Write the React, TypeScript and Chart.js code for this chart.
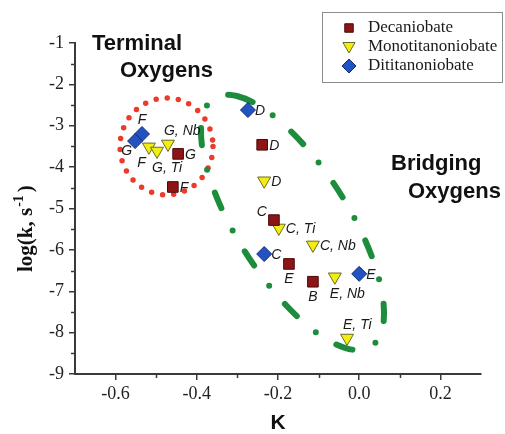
import React, { useEffect, useRef } from 'react';
import { Chart, registerables } from 'chart.js';

Chart.register(...registerables);

// ---- axis ticks ----
const xTicks = [-0.6, -0.4, -0.2, 0.0, 0.2];
const xMinorTicks = [-0.5, -0.3, -0.1, 0.1];
const yTicks = [-1, -2, -3, -4, -5, -6, -7, -8, -9];
const yMinorTicks = [-1.5, -2.5, -3.5, -4.5, -5.5, -6.5, -7.5, -8.5];

// ---- series ----
const seriesNames = ['Decaniobate', 'Monotitanoniobate', 'Dititanoniobate'];

const decaX = [-0.446, -0.459, -0.239, -0.21, -0.173, -0.114];
const decaY = [-3.68, -4.48, -3.46, -5.28, -6.34, -6.77];
const decaLabels = ['G', 'F', 'D', 'C', 'E', 'B'];
const decaPlace = ['r', 'r', 'r', 'al', 'b', 'b'];

const monoX = [-0.518, -0.498, -0.471, -0.234, -0.198, -0.114, -0.06, -0.03];
const monoY = [-3.51, -3.61, -3.44, -4.33, -5.47, -5.88, -6.65, -8.13];
const monoLabels = ['F', 'G, Ti', 'G, Nb', 'D', 'C, Ti', 'C, Nb', 'E, Nb', 'E, Ti'];
const monoPlace = ['bl', 'br', 'ar', 'r', 'r', 'r', 'br', 'ar'];

const diX = [-0.535, -0.552, -0.274, -0.234, 0.0];
const diY = [-3.2, -3.37, -2.62, -6.1, -6.58];
const diLabels = ['F', 'G', 'D', 'C', 'E'];
const diPlace = ['a', 'lb', 'r', 'r', 'r'];

// ---- region outlines (data units) ----
const terminalRing = { cx: -0.4746, cy: -3.5, rx: 0.1145, ry: 1.17 };
const bridgingRing = { x1: -0.3576, y1: -2.336, x2: 0.029, y2: -8.336, minorRatio: 0.38 };

const allLabels = [decaLabels, monoLabels, diLabels];
const allPlaces = [decaPlace, monoPlace, diPlace];

const placeOffsets: Record<string, [number, number, CanvasTextAlign]> = {
  r: [7, 1, 'left'],
  al: [-7, -8, 'right'],
  b: [0, 15, 'center'],
  bl: [-3, 16, 'right'],
  br: [-5, 17, 'left'],
  ar: [-4, -13, 'left'],
  a: [0, -14, 'center'],
  lb: [-3, 10, 'right'],
};

const AXIS_COLOR = '#3a3a3a';

function drawMarker(ctx: CanvasRenderingContext2D, style: string, x: number, y: number, r: number) {
  ctx.beginPath();
  if (style === 'rect') {
    const s = Math.SQRT1_2 * r;
    ctx.rect(x - s, y - s, 2 * s, 2 * s);
  } else if (style === 'triangle') {
    // pointing down
    for (let k = 0; k < 3; k++) {
      const a = Math.PI + (k * 2 * Math.PI) / 3;
      const px = x + Math.sin(a) * r;
      const py = y - Math.cos(a) * r;
      if (k === 0) ctx.moveTo(px, py);
      else ctx.lineTo(px, py);
    }
    ctx.closePath();
  } else {
    ctx.moveTo(x, y - r);
    ctx.lineTo(x + r, y);
    ctx.lineTo(x, y + r);
    ctx.lineTo(x - r, y);
    ctx.closePath();
  }
  ctx.fill();
  ctx.stroke();
}

const decorPlugin = {
  id: 'decor',
  beforeDatasetsDraw(chart: any) {
    const ctx: CanvasRenderingContext2D = chart.ctx;
    const xs = chart.scales.x;
    const ys = chart.scales.y;
    ctx.save();
    // terminal ring (red dots)
    const cx = xs.getPixelForValue(terminalRing.cx);
    const cy = ys.getPixelForValue(terminalRing.cy);
    const rx = Math.abs(xs.getPixelForValue(terminalRing.cx + terminalRing.rx) - cx);
    const ry = Math.abs(ys.getPixelForValue(terminalRing.cy + terminalRing.ry) - cy);
    ctx.strokeStyle = '#ec3a2b';
    ctx.lineWidth = 5.5;
    ctx.lineCap = 'round';
    ctx.setLineDash([0, 11.2]);
    ctx.beginPath();
    ctx.ellipse(cx, cy, rx, ry, 0, 0, Math.PI * 2);
    ctx.stroke();

    // bridging ring (green dash-dot)
    const ax = xs.getPixelForValue(bridgingRing.x1);
    const ay = ys.getPixelForValue(bridgingRing.y1);
    const bx = xs.getPixelForValue(bridgingRing.x2);
    const by = ys.getPixelForValue(bridgingRing.y2);
    const mx = (ax + bx) / 2;
    const my = (ay + by) / 2;
    const semi = Math.hypot(bx - ax, by - ay) / 2;
    const ang = Math.atan2(by - ay, bx - ax);
    ctx.strokeStyle = '#1d8c3c';
    ctx.lineWidth = 6;
    ctx.setLineDash([17, 24, 0, 25]);
    ctx.beginPath();
    ctx.ellipse(mx, my, semi, semi * bridgingRing.minorRatio, ang, Math.PI * 1.12, Math.PI * 3.12);
    ctx.stroke();
    ctx.restore();
  },
  afterDatasetsDraw(chart: any) {
    const ctx: CanvasRenderingContext2D = chart.ctx;
    ctx.save();
    ctx.font = 'italic 14px "Liberation Sans", Arial, sans-serif';
    ctx.fillStyle = '#1a1a1a';
    ctx.textBaseline = 'middle';
    chart.data.datasets.forEach((ds: any, di: number) => {
      const meta = chart.getDatasetMeta(di);
      meta.data.forEach((pt: any, i: number) => {
        const [dx, dy, align] = placeOffsets[allPlaces[di][i]];
        ctx.textAlign = align;
        ctx.fillText(allLabels[di][i], pt.x + dx, pt.y + dy);
      });
    });
    ctx.restore();
  },
  afterDraw(chart: any) {
    const ctx: CanvasRenderingContext2D = chart.ctx;
    const xs = chart.scales.x;
    const ys = chart.scales.y;
    const area = chart.chartArea;
    ctx.save();
    // minor ticks
    ctx.strokeStyle = AXIS_COLOR;
    ctx.lineWidth = 1.5;
    ctx.beginPath();
    xMinorTicks.forEach((v) => {
      const px = Math.round(xs.getPixelForValue(v)) + 0.5;
      ctx.moveTo(px, area.bottom);
      ctx.lineTo(px, area.bottom + 4);
    });
    yMinorTicks.forEach((v) => {
      const py = Math.round(ys.getPixelForValue(v)) + 0.5;
      ctx.moveTo(area.left - 4, py);
      ctx.lineTo(area.left, py);
    });
    ctx.stroke();

    // region titles
    ctx.fillStyle = '#111';
    ctx.font = 'bold 22px "Liberation Sans", Arial, sans-serif';
    ctx.textAlign = 'left';
    ctx.textBaseline = 'alphabetic';
    ctx.fillText('Terminal', 92, 50);
    ctx.fillText('Oxygens', 120, 77);
    ctx.fillText('Bridging', 391, 170);
    ctx.fillText('Oxygens', 408, 198);

    // x title
    ctx.font = 'bold 21px "Liberation Sans", Arial, sans-serif';
    ctx.textAlign = 'center';
    ctx.textBaseline = 'middle';
    ctx.fillText('K', (area.left + area.right) / 2, 423);

    // y title
    ctx.save();
    ctx.translate(32, 272);
    ctx.rotate(-Math.PI / 2);
    ctx.textAlign = 'left';
    ctx.textBaseline = 'alphabetic';
    ctx.font = 'bold 21px "Liberation Serif", "Times New Roman", serif';
    const main = 'log(k, s';
    ctx.fillText(main, 0, 0);
    let w = ctx.measureText(main).width;
    ctx.font = 'bold 14px "Liberation Serif", "Times New Roman", serif';
    ctx.fillText('-1', w + 1, -9);
    w += ctx.measureText('-1').width + 4;
    ctx.font = 'bold 21px "Liberation Serif", "Times New Roman", serif';
    ctx.fillText(')', w, 0);
    ctx.restore();

    // legend
    const lx = 322.5;
    const ly = 12.5;
    ctx.strokeStyle = '#8c8c8c';
    ctx.lineWidth = 1;
    ctx.fillStyle = '#ffffff';
    ctx.fillRect(lx, ly, 180, 70);
    ctx.strokeRect(lx, ly, 180, 70);
    const rowY = [28, 47, 66];
    const styles = ['rect', 'triangle', 'rectRot'];
    const sizes = [6, 7, 7];
    chart.data.datasets.forEach((ds: any, i: number) => {
      ctx.fillStyle = ds.backgroundColor;
      ctx.strokeStyle = ds.borderColor;
      ctx.lineWidth = 1;
      drawMarker(ctx, styles[i], 349, rowY[i] + (i === 1 ? -1 : 0), sizes[i]);
      ctx.fillStyle = '#1a1a1a';
      ctx.font = '17px "Liberation Serif", "Times New Roman", serif';
      ctx.textAlign = 'left';
      ctx.textBaseline = 'middle';
      ctx.fillText(ds.label, 368, rowY[i]);
    });
    ctx.restore();
  },
};

function toPoints(xs: number[], ys: number[]) {
  return xs.map((x, i) => ({ x, y: ys[i] }));
}

export default function App() {
  const ref = useRef<HTMLCanvasElement | null>(null);

  useEffect(() => {
    document.body.style.margin = '0';
    const canvas = ref.current;
    if (!canvas) return;
    const chart = new Chart(canvas, {
      type: 'scatter',
      data: {
        datasets: [
          {
            label: seriesNames[0],
            data: toPoints(decaX, decaY),
            pointStyle: 'rect',
            pointRadius: 7.5,
            backgroundColor: '#8e1515',
            borderColor: '#4a0a0a',
            borderWidth: 1,
          },
          {
            label: seriesNames[1],
            data: toPoints(monoX, monoY),
            pointStyle: 'triangle',
            pointRotation: 180,
            pointRadius: 7.5,
            backgroundColor: '#f2ee12',
            borderColor: '#6a6a28',
            borderWidth: 1,
          },
          {
            label: seriesNames[2],
            data: toPoints(diX, diY),
            pointStyle: 'rectRot',
            pointRadius: 7.5,
            backgroundColor: '#2352c2',
            borderColor: '#122c72',
            borderWidth: 1,
          },
        ],
      },
      options: {
        responsive: false,
        animation: false,
        events: [],
        layout: { padding: { top: 43, right: 24, left: 0, bottom: 0 } },
        plugins: {
          legend: { display: false },
          tooltip: { enabled: false },
        },
        scales: {
          x: {
            type: 'linear',
            min: -0.7,
            max: 0.3,
            afterBuildTicks: (s: any) => {
              s.ticks = xTicks.map((v) => ({ value: v }));
            },
            afterFit: (s: any) => {
              s.height = 60;
            },
            grid: { drawOnChartArea: false, drawTicks: true, tickLength: 6, color: AXIS_COLOR, lineWidth: 1.5 },
            border: { display: true, color: AXIS_COLOR, width: 2 },
            ticks: {
              font: { family: '"Liberation Serif", "Times New Roman", serif', size: 18 },
              color: '#222',
              padding: 3,
              maxRotation: 0,
              callback: (v: any) => Number(v).toFixed(1).replace('-0.0', '0.0'),
            },
          },
          y: {
            type: 'linear',
            min: -9,
            max: -1,
            afterBuildTicks: (s: any) => {
              s.ticks = yTicks.map((v) => ({ value: v }));
            },
            afterFit: (s: any) => {
              s.width = 75;
            },
            grid: { drawOnChartArea: false, drawTicks: true, tickLength: 6, color: AXIS_COLOR, lineWidth: 1.5 },
            border: { display: true, color: AXIS_COLOR, width: 2 },
            ticks: {
              font: { family: '"Liberation Serif", "Times New Roman", serif', size: 18 },
              color: '#222',
              padding: 5,
              callback: (v: any) => String(v),
            },
          },
        },
      },
      plugins: [decorPlugin],
    } as any);
    return () => chart.destroy();
  }, []);

  return (
    <div style={{ width: 505, height: 434, background: '#ffffff' }}>
      <canvas ref={ref} width={505} height={434} style={{ display: 'block' }} />
    </div>
  );
}
